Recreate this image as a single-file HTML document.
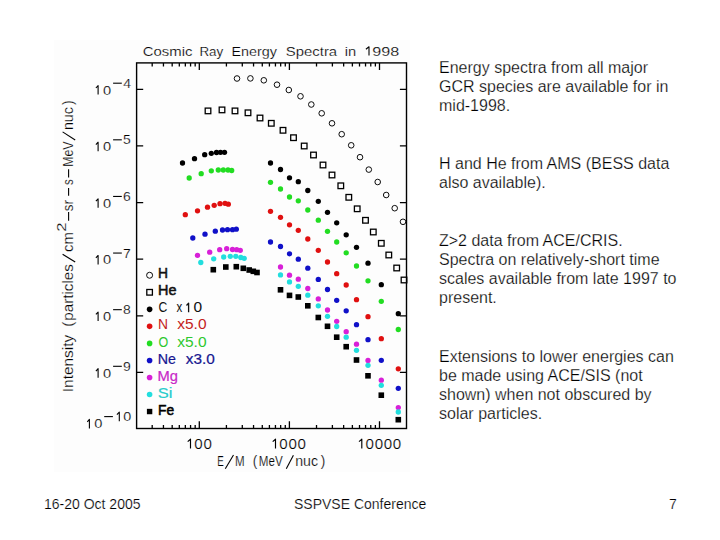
<!DOCTYPE html>
<html><head><meta charset="utf-8"><style>
html,body{margin:0;padding:0;background:#fff;}
body{width:720px;height:540px;position:relative;overflow:hidden;font-family:'Liberation Sans',sans-serif;}
svg{position:absolute;left:0;top:0;}
svg text{font-family:'Liberation Sans',sans-serif;}
.ct text{stroke:#fdfdfd;stroke-width:0.2px;}
.t{position:absolute;left:439px;font-size:16px;line-height:19px;color:#000;white-space:nowrap;-webkit-text-stroke:0.25px #fff;}
.f{position:absolute;font-size:14px;color:#000;white-space:nowrap;line-height:16px;-webkit-text-stroke:0.2px #fff;}
</style></head><body>
<svg width="720" height="540" viewBox="0 0 720 540">
<rect x="54" y="40" width="356" height="432" fill="#fdfdfd"/>
<g class="ct"><rect x="136.6" y="62.9" width="269.90" height="365.60" fill="none" stroke="#000" stroke-width="1.4"/>
<path d="M152.19 428.5v-3.6M152.19 62.9v3.6M163.45 428.5v-3.6M163.45 62.9v3.6M172.18 428.5v-3.6M172.18 62.9v3.6M179.31 428.5v-3.6M179.31 62.9v3.6M185.34 428.5v-3.6M185.34 62.9v3.6M190.57 428.5v-3.6M190.57 62.9v3.6M195.18 428.5v-3.6M195.18 62.9v3.6M199.30 428.5v-7.2M199.30 62.9v7.2M226.42 428.5v-3.6M226.42 62.9v3.6M242.29 428.5v-3.6M242.29 62.9v3.6M253.55 428.5v-3.6M253.55 62.9v3.6M262.28 428.5v-3.6M262.28 62.9v3.6M269.41 428.5v-3.6M269.41 62.9v3.6M275.44 428.5v-3.6M275.44 62.9v3.6M280.67 428.5v-3.6M280.67 62.9v3.6M285.28 428.5v-3.6M285.28 62.9v3.6M289.40 428.5v-7.2M289.40 62.9v7.2M316.52 428.5v-3.6M316.52 62.9v3.6M332.39 428.5v-3.6M332.39 62.9v3.6M343.65 428.5v-3.6M343.65 62.9v3.6M352.38 428.5v-3.6M352.38 62.9v3.6M359.51 428.5v-3.6M359.51 62.9v3.6M365.54 428.5v-3.6M365.54 62.9v3.6M370.77 428.5v-3.6M370.77 62.9v3.6M375.38 428.5v-3.6M375.38 62.9v3.6M379.50 428.5v-7.2M379.50 62.9v7.2M136.6 89.30h6.6M406.5 89.30h-6.6M136.6 145.92h6.6M406.5 145.92h-6.6M136.6 202.54h6.6M406.5 202.54h-6.6M136.6 259.16h6.6M406.5 259.16h-6.6M136.6 315.78h6.6M406.5 315.78h-6.6M136.6 372.40h6.6M406.5 372.40h-6.6" stroke="#000" stroke-width="1.3" fill="none"/>
<text transform="translate(142.74,55.60) scale(1.1307,1)" font-size="13.2" fill="#000" >Cosmic</text>
<text transform="translate(199.40,55.60) scale(1.0150,1)" font-size="13.2" fill="#000" >Ray</text>
<text transform="translate(231.42,55.60) scale(1.0856,1)" font-size="13.2" fill="#000" >Energy</text>
<text transform="translate(285.82,55.60) scale(1.1294,1)" font-size="13.2" fill="#000" >Spectra</text>
<text transform="translate(344.82,55.60) scale(1.1132,1)" font-size="13.2" fill="#000" >in</text>
<text transform="translate(372.24,55.60) scale(1.2241,1)" font-size="13.2" fill="#000" >998</text>
<path d="M365.90 49.20L369.00 46.80V55.40" stroke="#000" stroke-width="1.1" fill="none" stroke-linejoin="round"/>
<path d="M187.70 441.60L190.50 439.20V448.60" stroke="#000" stroke-width="1.15" fill="none" stroke-linejoin="round"/>
<text transform="translate(194.31,448.60) scale(1.08,1)" font-size="14" fill="#000">0</text>
<text transform="translate(203.38,448.60) scale(1.08,1)" font-size="14" fill="#000">0</text>
<path d="M272.70 441.60L275.50 439.20V448.60" stroke="#000" stroke-width="1.15" fill="none" stroke-linejoin="round"/>
<text transform="translate(279.31,448.60) scale(1.08,1)" font-size="14" fill="#000">0</text>
<text transform="translate(288.38,448.60) scale(1.08,1)" font-size="14" fill="#000">0</text>
<text transform="translate(297.45,448.60) scale(1.08,1)" font-size="14" fill="#000">0</text>
<path d="M359.00 441.60L361.80 439.20V448.60" stroke="#000" stroke-width="1.15" fill="none" stroke-linejoin="round"/>
<text transform="translate(365.61,448.60) scale(1.08,1)" font-size="14" fill="#000">0</text>
<text transform="translate(374.68,448.60) scale(1.08,1)" font-size="14" fill="#000">0</text>
<text transform="translate(383.75,448.60) scale(1.08,1)" font-size="14" fill="#000">0</text>
<text transform="translate(392.82,448.60) scale(1.08,1)" font-size="14" fill="#000">0</text>
<text transform="translate(217.30,466.30) scale(0.6985,1)" font-size="14" fill="#000" >E</text>
<text transform="translate(235.10,466.30) scale(0.8275,1)" font-size="14" fill="#000" >M</text>
<text transform="translate(252.72,466.30) scale(0.9564,1)" font-size="14" fill="#000" >(</text>
<text transform="translate(258.85,466.30) scale(0.8304,1)" font-size="14" fill="#000" >MeV</text>
<text transform="translate(295.26,466.30) scale(1.0107,1)" font-size="14" fill="#000" >nuc</text>
<text transform="translate(320.72,466.30) scale(0.9699,1)" font-size="14" fill="#000" >)</text>
<path d="M225.3 468.8L233.5 455.0" stroke="#000" stroke-width="1.1"/>
<path d="M286.3 468.8L293.4 455.2" stroke="#000" stroke-width="1.1"/>
<path d="M95.90 88.00L98.10 85.60V94.60" stroke="#000" stroke-width="1.1" fill="none" stroke-linejoin="round"/>
<text transform="translate(102.93,94.60) scale(1.1,1)" font-size="13.3" fill="#000">0</text>
<path d="M113.1 83.20h8.7" stroke="#000" stroke-width="1.1"/>
<text transform="translate(123.28,87.80) scale(1.05,1)" font-size="13.3" fill="#000">4</text>
<path d="M95.90 144.62L98.10 142.22V151.22" stroke="#000" stroke-width="1.1" fill="none" stroke-linejoin="round"/>
<text transform="translate(102.93,151.22) scale(1.1,1)" font-size="13.3" fill="#000">0</text>
<path d="M113.1 139.82h8.7" stroke="#000" stroke-width="1.1"/>
<text transform="translate(123.04,144.42) scale(1.05,1)" font-size="13.3" fill="#000">5</text>
<path d="M95.90 201.24L98.10 198.84V207.84" stroke="#000" stroke-width="1.1" fill="none" stroke-linejoin="round"/>
<text transform="translate(102.93,207.84) scale(1.1,1)" font-size="13.3" fill="#000">0</text>
<path d="M113.1 196.44h8.7" stroke="#000" stroke-width="1.1"/>
<text transform="translate(122.89,201.04) scale(1.05,1)" font-size="13.3" fill="#000">6</text>
<path d="M95.90 257.86L98.10 255.46V264.46" stroke="#000" stroke-width="1.1" fill="none" stroke-linejoin="round"/>
<text transform="translate(102.93,264.46) scale(1.1,1)" font-size="13.3" fill="#000">0</text>
<path d="M113.1 253.06h8.7" stroke="#000" stroke-width="1.1"/>
<text transform="translate(122.88,257.66) scale(1.05,1)" font-size="13.3" fill="#000">7</text>
<path d="M95.90 314.48L98.10 312.08V321.08" stroke="#000" stroke-width="1.1" fill="none" stroke-linejoin="round"/>
<text transform="translate(102.93,321.08) scale(1.1,1)" font-size="13.3" fill="#000">0</text>
<path d="M113.1 309.68h8.7" stroke="#000" stroke-width="1.1"/>
<text transform="translate(122.99,314.28) scale(1.05,1)" font-size="13.3" fill="#000">8</text>
<path d="M95.90 371.10L98.10 368.70V377.70" stroke="#000" stroke-width="1.1" fill="none" stroke-linejoin="round"/>
<text transform="translate(102.93,377.70) scale(1.1,1)" font-size="13.3" fill="#000">0</text>
<path d="M113.1 366.30h8.7" stroke="#000" stroke-width="1.1"/>
<text transform="translate(122.95,370.90) scale(1.05,1)" font-size="13.3" fill="#000">9</text>
<path d="M87.30 421.80L89.40 419.40V428.40" stroke="#000" stroke-width="1.1" fill="none" stroke-linejoin="round"/>
<text transform="translate(94.23,428.40) scale(1.1,1)" font-size="13.3" fill="#000">0</text>
<path d="M104.2 416.60h8.7" stroke="#000" stroke-width="1.1"/>
<path d="M116.90 414.60L119.30 412.20V421.20" stroke="#000" stroke-width="1.1" fill="none" stroke-linejoin="round"/>
<text transform="translate(123.24,421.20) scale(1.08,1)" font-size="13.3" fill="#000">0</text>
<g transform="translate(73.3,400.0) rotate(-90)"><text transform="translate(7.78,0.00) scale(1.1020,1)" font-size="14" fill="#000" >Intensity</text><text transform="translate(73.16,0.00) scale(1.0776,1)" font-size="14" fill="#000" >(</text><text transform="translate(79.32,0.00) scale(1.0843,1)" font-size="14" fill="#000" >particles</text><text transform="translate(147.97,0.00) scale(1.0674,1)" font-size="14" fill="#000" >cm</text><text transform="translate(188.73,0.00) scale(0.9601,1)" font-size="14" fill="#000" >sr</text><text transform="translate(214.98,0.00) scale(0.8191,1)" font-size="14" fill="#000" >s</text><text transform="translate(233.18,0.00) scale(0.8848,1)" font-size="14" fill="#000" >MeV</text><text transform="translate(269.96,0.00) scale(1.0154,1)" font-size="14" fill="#000" >nuc</text><text transform="translate(295.02,0.00) scale(0.9968,1)" font-size="14" fill="#000" >)</text><text transform="translate(168.35,-7.10) scale(1.2708,1)" font-size="13.3" fill="#000" >2</text></g>
<path d="M75.2 262.0L62.6 254.2" stroke="#000" stroke-width="1.1"/>
<path d="M75.2 140.0L62.6 131.9" stroke="#000" stroke-width="1.1"/>
<path d="M68.6 220.80V212.00" stroke="#000" stroke-width="1.1"/>
<path d="M68.6 195.80V188.10" stroke="#000" stroke-width="1.1"/>
<path d="M68.6 177.50V169.20" stroke="#000" stroke-width="1.1"/>
<g>
<circle cx="237" cy="78.5" r="2.8" fill="none" stroke="#000" stroke-width="0.95"/><circle cx="250.4" cy="78.4" r="2.8" fill="none" stroke="#000" stroke-width="0.95"/><circle cx="263.8" cy="80.3" r="2.8" fill="none" stroke="#000" stroke-width="0.95"/><circle cx="277" cy="84.7" r="2.8" fill="none" stroke="#000" stroke-width="0.95"/><circle cx="288.8" cy="90" r="2.8" fill="none" stroke="#000" stroke-width="0.95"/><circle cx="300.5" cy="96.3" r="2.8" fill="none" stroke="#000" stroke-width="0.95"/><circle cx="311.3" cy="104.5" r="2.8" fill="none" stroke="#000" stroke-width="0.95"/><circle cx="321.7" cy="113.3" r="2.8" fill="none" stroke="#000" stroke-width="0.95"/><circle cx="332" cy="123.3" r="2.8" fill="none" stroke="#000" stroke-width="0.95"/><circle cx="341.7" cy="134.2" r="2.8" fill="none" stroke="#000" stroke-width="0.95"/><circle cx="351.2" cy="145.3" r="2.8" fill="none" stroke="#000" stroke-width="0.95"/><circle cx="360" cy="157.2" r="2.8" fill="none" stroke="#000" stroke-width="0.95"/><circle cx="368.8" cy="169.6" r="2.8" fill="none" stroke="#000" stroke-width="0.95"/><circle cx="377.7" cy="182" r="2.8" fill="none" stroke="#000" stroke-width="0.95"/><circle cx="386.2" cy="195" r="2.8" fill="none" stroke="#000" stroke-width="0.95"/><circle cx="394.7" cy="208.2" r="2.8" fill="none" stroke="#000" stroke-width="0.95"/><circle cx="403" cy="221.8" r="2.8" fill="none" stroke="#000" stroke-width="0.95"/>
<rect x="205.20" y="108.10" width="5.6" height="5.6" fill="none" stroke="#000" stroke-width="1.3"/><rect x="219.20" y="107.10" width="5.6" height="5.6" fill="none" stroke="#000" stroke-width="1.3"/><rect x="232.20" y="108.10" width="5.6" height="5.6" fill="none" stroke="#000" stroke-width="1.3"/><rect x="245.20" y="110.00" width="5.6" height="5.6" fill="none" stroke="#000" stroke-width="1.3"/><rect x="257.20" y="115.20" width="5.6" height="5.6" fill="none" stroke="#000" stroke-width="1.3"/><rect x="268.50" y="120.50" width="5.6" height="5.6" fill="none" stroke="#000" stroke-width="1.3"/><rect x="280.20" y="127.50" width="5.6" height="5.6" fill="none" stroke="#000" stroke-width="1.3"/><rect x="290.70" y="134.90" width="5.6" height="5.6" fill="none" stroke="#000" stroke-width="1.3"/><rect x="301.40" y="143.20" width="5.6" height="5.6" fill="none" stroke="#000" stroke-width="1.3"/><rect x="310.70" y="152.20" width="5.6" height="5.6" fill="none" stroke="#000" stroke-width="1.3"/><rect x="320.20" y="162.20" width="5.6" height="5.6" fill="none" stroke="#000" stroke-width="1.3"/><rect x="329.20" y="172.20" width="5.6" height="5.6" fill="none" stroke="#000" stroke-width="1.3"/><rect x="338.00" y="183.00" width="5.6" height="5.6" fill="none" stroke="#000" stroke-width="1.3"/><rect x="346.00" y="194.50" width="5.6" height="5.6" fill="none" stroke="#000" stroke-width="1.3"/><rect x="354.40" y="206.00" width="5.6" height="5.6" fill="none" stroke="#000" stroke-width="1.3"/><rect x="362.70" y="217.50" width="5.6" height="5.6" fill="none" stroke="#000" stroke-width="1.3"/><rect x="370.50" y="229.20" width="5.6" height="5.6" fill="none" stroke="#000" stroke-width="1.3"/><rect x="378.50" y="240.50" width="5.6" height="5.6" fill="none" stroke="#000" stroke-width="1.3"/><rect x="386.00" y="252.20" width="5.6" height="5.6" fill="none" stroke="#000" stroke-width="1.3"/><rect x="393.90" y="265.20" width="5.6" height="5.6" fill="none" stroke="#000" stroke-width="1.3"/><rect x="401.20" y="277.20" width="5.6" height="5.6" fill="none" stroke="#000" stroke-width="1.3"/>
<circle cx="182.5" cy="163" r="2.65" fill="#000"/><circle cx="194.5" cy="158.7" r="2.65" fill="#000"/><circle cx="204.7" cy="154.7" r="2.65" fill="#000"/><circle cx="211.3" cy="153.3" r="2.65" fill="#000"/><circle cx="216.5" cy="152.5" r="2.65" fill="#000"/><circle cx="220.5" cy="152.3" r="2.65" fill="#000"/><circle cx="224.5" cy="152.3" r="2.65" fill="#000"/><circle cx="270.5" cy="163" r="2.65" fill="#000"/><circle cx="280.5" cy="169.5" r="2.65" fill="#000"/><circle cx="289.5" cy="177.8" r="2.65" fill="#000"/><circle cx="298.3" cy="181.7" r="2.65" fill="#000"/><circle cx="307.8" cy="190.5" r="2.65" fill="#000"/><circle cx="318.3" cy="201.3" r="2.65" fill="#000"/><circle cx="327.5" cy="212.3" r="2.65" fill="#000"/><circle cx="336.7" cy="222.8" r="2.65" fill="#000"/><circle cx="346.2" cy="234.8" r="2.65" fill="#000"/><circle cx="356.5" cy="247.3" r="2.65" fill="#000"/><circle cx="368" cy="263.2" r="2.65" fill="#000"/><circle cx="381.3" cy="284.7" r="2.65" fill="#000"/><circle cx="398.3" cy="313.7" r="2.65" fill="#000"/>
<circle cx="189.2" cy="178" r="2.65" fill="#22dd22"/><circle cx="201.2" cy="173.7" r="2.65" fill="#22dd22"/><circle cx="211.3" cy="170.8" r="2.65" fill="#22dd22"/><circle cx="218.3" cy="170" r="2.65" fill="#22dd22"/><circle cx="223.3" cy="170" r="2.65" fill="#22dd22"/><circle cx="228" cy="170" r="2.65" fill="#22dd22"/><circle cx="231.7" cy="170.5" r="2.65" fill="#22dd22"/><circle cx="270.5" cy="182.3" r="2.65" fill="#22dd22"/><circle cx="280.5" cy="189" r="2.65" fill="#22dd22"/><circle cx="289.5" cy="197" r="2.65" fill="#22dd22"/><circle cx="298.3" cy="200.8" r="2.65" fill="#22dd22"/><circle cx="307.8" cy="210" r="2.65" fill="#22dd22"/><circle cx="318.3" cy="220.2" r="2.65" fill="#22dd22"/><circle cx="327.5" cy="231.3" r="2.65" fill="#22dd22"/><circle cx="336.7" cy="242" r="2.65" fill="#22dd22"/><circle cx="346.2" cy="252.8" r="2.65" fill="#22dd22"/><circle cx="356.5" cy="266" r="2.65" fill="#22dd22"/><circle cx="368" cy="280.8" r="2.65" fill="#22dd22"/><circle cx="381.3" cy="301.3" r="2.65" fill="#22dd22"/><circle cx="398.3" cy="329.5" r="2.65" fill="#22dd22"/>
<circle cx="185.3" cy="214.7" r="2.65" fill="#e01010"/><circle cx="197.5" cy="210.8" r="2.65" fill="#e01010"/><circle cx="207.5" cy="207.2" r="2.65" fill="#e01010"/><circle cx="214.2" cy="205.3" r="2.65" fill="#e01010"/><circle cx="220" cy="203.7" r="2.65" fill="#e01010"/><circle cx="225" cy="203.3" r="2.65" fill="#e01010"/><circle cx="228.3" cy="204.2" r="2.65" fill="#e01010"/><circle cx="270.5" cy="211.3" r="2.65" fill="#e01010"/><circle cx="280.5" cy="217.3" r="2.65" fill="#e01010"/><circle cx="289.5" cy="224.8" r="2.65" fill="#e01010"/><circle cx="298.3" cy="230.3" r="2.65" fill="#e01010"/><circle cx="307.8" cy="239" r="2.65" fill="#e01010"/><circle cx="318.3" cy="250.3" r="2.65" fill="#e01010"/><circle cx="327.5" cy="262" r="2.65" fill="#e01010"/><circle cx="336.7" cy="273.7" r="2.65" fill="#e01010"/><circle cx="346.2" cy="285" r="2.65" fill="#e01010"/><circle cx="356.5" cy="299.7" r="2.65" fill="#e01010"/><circle cx="368" cy="316.7" r="2.65" fill="#e01010"/><circle cx="381.3" cy="338.7" r="2.65" fill="#e01010"/><circle cx="398.3" cy="368.8" r="2.65" fill="#e01010"/>
<circle cx="192.8" cy="238" r="2.65" fill="#1010c8"/><circle cx="205" cy="234.2" r="2.65" fill="#1010c8"/><circle cx="215.3" cy="231.2" r="2.65" fill="#1010c8"/><circle cx="222.5" cy="230" r="2.65" fill="#1010c8"/><circle cx="227.5" cy="229.7" r="2.65" fill="#1010c8"/><circle cx="232.5" cy="229.7" r="2.65" fill="#1010c8"/><circle cx="236.3" cy="229.2" r="2.65" fill="#1010c8"/><circle cx="270.5" cy="242" r="2.65" fill="#1010c8"/><circle cx="280.5" cy="246.5" r="2.65" fill="#1010c8"/><circle cx="289.5" cy="253.8" r="2.65" fill="#1010c8"/><circle cx="298.3" cy="259.2" r="2.65" fill="#1010c8"/><circle cx="307.8" cy="268.2" r="2.65" fill="#1010c8"/><circle cx="318.3" cy="279.4" r="2.65" fill="#1010c8"/><circle cx="327.5" cy="289.5" r="2.65" fill="#1010c8"/><circle cx="336.7" cy="300.3" r="2.65" fill="#1010c8"/><circle cx="346.2" cy="310.8" r="2.65" fill="#1010c8"/><circle cx="356.5" cy="324.7" r="2.65" fill="#1010c8"/><circle cx="368" cy="339.7" r="2.65" fill="#1010c8"/><circle cx="381.3" cy="360.3" r="2.65" fill="#1010c8"/><circle cx="398.3" cy="388.3" r="2.65" fill="#1010c8"/>
<circle cx="197.5" cy="255.3" r="2.65" fill="#d820d8"/><circle cx="209.7" cy="252.2" r="2.65" fill="#d820d8"/><circle cx="219.7" cy="249.7" r="2.65" fill="#d820d8"/><circle cx="226.7" cy="248.7" r="2.65" fill="#d820d8"/><circle cx="232.5" cy="249.5" r="2.65" fill="#d820d8"/><circle cx="236.7" cy="249.7" r="2.65" fill="#d820d8"/><circle cx="240.3" cy="250.3" r="2.65" fill="#d820d8"/><circle cx="280.5" cy="267" r="2.65" fill="#d820d8"/><circle cx="289.5" cy="275.2" r="2.65" fill="#d820d8"/><circle cx="298.3" cy="279.2" r="2.65" fill="#d820d8"/><circle cx="307.8" cy="288.5" r="2.65" fill="#d820d8"/><circle cx="318.3" cy="298.9" r="2.65" fill="#d820d8"/><circle cx="327.5" cy="310" r="2.65" fill="#d820d8"/><circle cx="336.7" cy="321.3" r="2.65" fill="#d820d8"/><circle cx="346.2" cy="331.7" r="2.65" fill="#d820d8"/><circle cx="356.5" cy="344.2" r="2.65" fill="#d820d8"/><circle cx="368" cy="360.5" r="2.65" fill="#d820d8"/><circle cx="381.3" cy="380.2" r="2.65" fill="#d820d8"/><circle cx="398.3" cy="407.6" r="2.65" fill="#d820d8"/>
<circle cx="200.8" cy="262.5" r="2.65" fill="#22dede"/><circle cx="213.7" cy="258.8" r="2.65" fill="#22dede"/><circle cx="223.7" cy="257" r="2.65" fill="#22dede"/><circle cx="230.3" cy="256.3" r="2.65" fill="#22dede"/><circle cx="235.8" cy="256.3" r="2.65" fill="#22dede"/><circle cx="240.8" cy="257.5" r="2.65" fill="#22dede"/><circle cx="244.2" cy="258.3" r="2.65" fill="#22dede"/><circle cx="280.5" cy="274.9" r="2.65" fill="#22dede"/><circle cx="289.5" cy="281.9" r="2.65" fill="#22dede"/><circle cx="298.3" cy="286.3" r="2.65" fill="#22dede"/><circle cx="307.8" cy="295.2" r="2.65" fill="#22dede"/><circle cx="318.3" cy="305.8" r="2.65" fill="#22dede"/><circle cx="327.5" cy="316.3" r="2.65" fill="#22dede"/><circle cx="336.7" cy="326.5" r="2.65" fill="#22dede"/><circle cx="346.2" cy="337.2" r="2.65" fill="#22dede"/><circle cx="356.5" cy="350.3" r="2.65" fill="#22dede"/><circle cx="368" cy="365.3" r="2.65" fill="#22dede"/><circle cx="381.3" cy="385.3" r="2.65" fill="#22dede"/><circle cx="398.3" cy="412" r="2.65" fill="#22dede"/>
<rect x="210.50" y="266.90" width="5.6" height="5.6" fill="#000"/><rect x="223.00" y="264.20" width="5.6" height="5.6" fill="#000"/><rect x="233.50" y="263.90" width="5.6" height="5.6" fill="#000"/><rect x="240.50" y="265.50" width="5.6" height="5.6" fill="#000"/><rect x="246.40" y="267.20" width="5.6" height="5.6" fill="#000"/><rect x="250.50" y="268.50" width="5.6" height="5.6" fill="#000"/><rect x="254.20" y="269.70" width="5.6" height="5.6" fill="#000"/><rect x="277.70" y="287.00" width="5.6" height="5.6" fill="#000"/><rect x="286.70" y="292.60" width="5.6" height="5.6" fill="#000"/><rect x="295.50" y="294.20" width="5.6" height="5.6" fill="#000"/><rect x="305.00" y="303.00" width="5.6" height="5.6" fill="#000"/><rect x="315.50" y="314.70" width="5.6" height="5.6" fill="#000"/><rect x="324.70" y="323.50" width="5.6" height="5.6" fill="#000"/><rect x="333.90" y="334.40" width="5.6" height="5.6" fill="#000"/><rect x="343.40" y="343.90" width="5.6" height="5.6" fill="#000"/><rect x="353.70" y="357.20" width="5.6" height="5.6" fill="#000"/><rect x="365.20" y="373.00" width="5.6" height="5.6" fill="#000"/><rect x="378.50" y="392.40" width="5.6" height="5.6" fill="#000"/><rect x="395.50" y="416.90" width="5.6" height="5.6" fill="#000"/>
</g>
<circle cx="149.6" cy="275.26" r="3.0" fill="none" stroke="#000" stroke-width="0.95"/>
<text transform="translate(158.07,278.36) scale(0.9989,1)" font-size="13.8" fill="#111" style="stroke:#111;stroke-width:0.5px">H</text>
<rect x="146.80" y="289.49" width="5.6" height="5.6" fill="none" stroke="#000" stroke-width="1.3"/>
<text transform="translate(158.02,295.39) scale(1.0443,1)" font-size="13.8" fill="#111" style="stroke:#111;stroke-width:0.5px">He</text>
<circle cx="149.6" cy="309.33" r="2.8" fill="#000"/>
<text transform="translate(158.58,312.43) scale(0.8811,1)" font-size="13.8" fill="#111" style="stroke:none">C</text>
<text transform="translate(176.57,312.43) scale(0.8337,1)" font-size="13.8" fill="#111" style="stroke:none">x</text>
<path d="M186.50 305.53L188.60 303.13V312.23" stroke="#111" stroke-width="1.3" fill="none" stroke-linejoin="round"/>
<text transform="translate(193.60,312.43) scale(1.1218,1)" font-size="13.8" fill="#111" style="stroke:none">0</text>
<circle cx="149.6" cy="326.36" r="2.8" fill="#e01010"/>
<text transform="translate(157.91,329.46) scale(1.0054,1)" font-size="13.8" fill="#c41e1e" style="stroke:none">N</text>
<text transform="translate(177.23,329.46) scale(1.1245,1)" font-size="13.8" fill="#c41e1e" style="stroke:none">x5.0</text>
<circle cx="149.6" cy="343.40" r="2.8" fill="#22dd22"/>
<text transform="translate(158.46,346.50) scale(0.9076,1)" font-size="13.8" fill="#2ec82e" style="stroke:none">O</text>
<text transform="translate(177.23,346.50) scale(1.1245,1)" font-size="13.8" fill="#2ec82e" style="stroke:none">x5.0</text>
<circle cx="149.6" cy="360.44" r="2.8" fill="#1010c8"/>
<text transform="translate(157.63,363.54) scale(1.0317,1)" font-size="13.8" fill="#161690" style="stroke:#161690;stroke-width:0.2px">Ne</text>
<text transform="translate(185.73,363.54) scale(1.1107,1)" font-size="13.8" fill="#161690" style="stroke:#161690;stroke-width:0.2px">x3.0</text>
<circle cx="149.6" cy="377.47" r="2.8" fill="#d820d8"/>
<text transform="translate(157.39,380.57) scale(1.0671,1)" font-size="13.8" fill="#c828c8" style="stroke:#c828c8;stroke-width:0.2px">Mg</text>
<circle cx="149.6" cy="394.50" r="2.8" fill="#22dede"/>
<text transform="translate(157.85,397.61) scale(1.1947,1)" font-size="13.8" fill="#28cccc" style="stroke:#28cccc;stroke-width:0.2px">Si</text>
<rect x="146.90" y="408.84" width="5.4" height="5.4" fill="#000"/>
<text transform="translate(158.06,414.64) scale(1.0028,1)" font-size="13.8" fill="#000" style="stroke:#000;stroke-width:0.5px">Fe</text></g>
</svg>
<div class="t" style="top:58px">Energy spectra from all major<br>GCR species are available for in<br>mid-1998.</div>
<div class="t" style="top:154px">H and He from AMS (BESS data<br>also available).</div>
<div class="t" style="top:231px">Z&gt;2 data from ACE/CRIS.<br>Spectra on relatively-short time<br>scales available from late 1997 to<br>present.</div>
<div class="t" style="top:347px">Extensions to lower energies can<br>be made using ACE/SIS (not<br>shown) when not obscured by<br>solar particles.</div>
<div class="f" style="left:44px;top:496px">16-20 Oct 2005</div>
<div class="f" style="left:294px;top:496px">SSPVSE Conference</div>
<div class="f" style="left:669px;top:496px">7</div>
</body></html>
